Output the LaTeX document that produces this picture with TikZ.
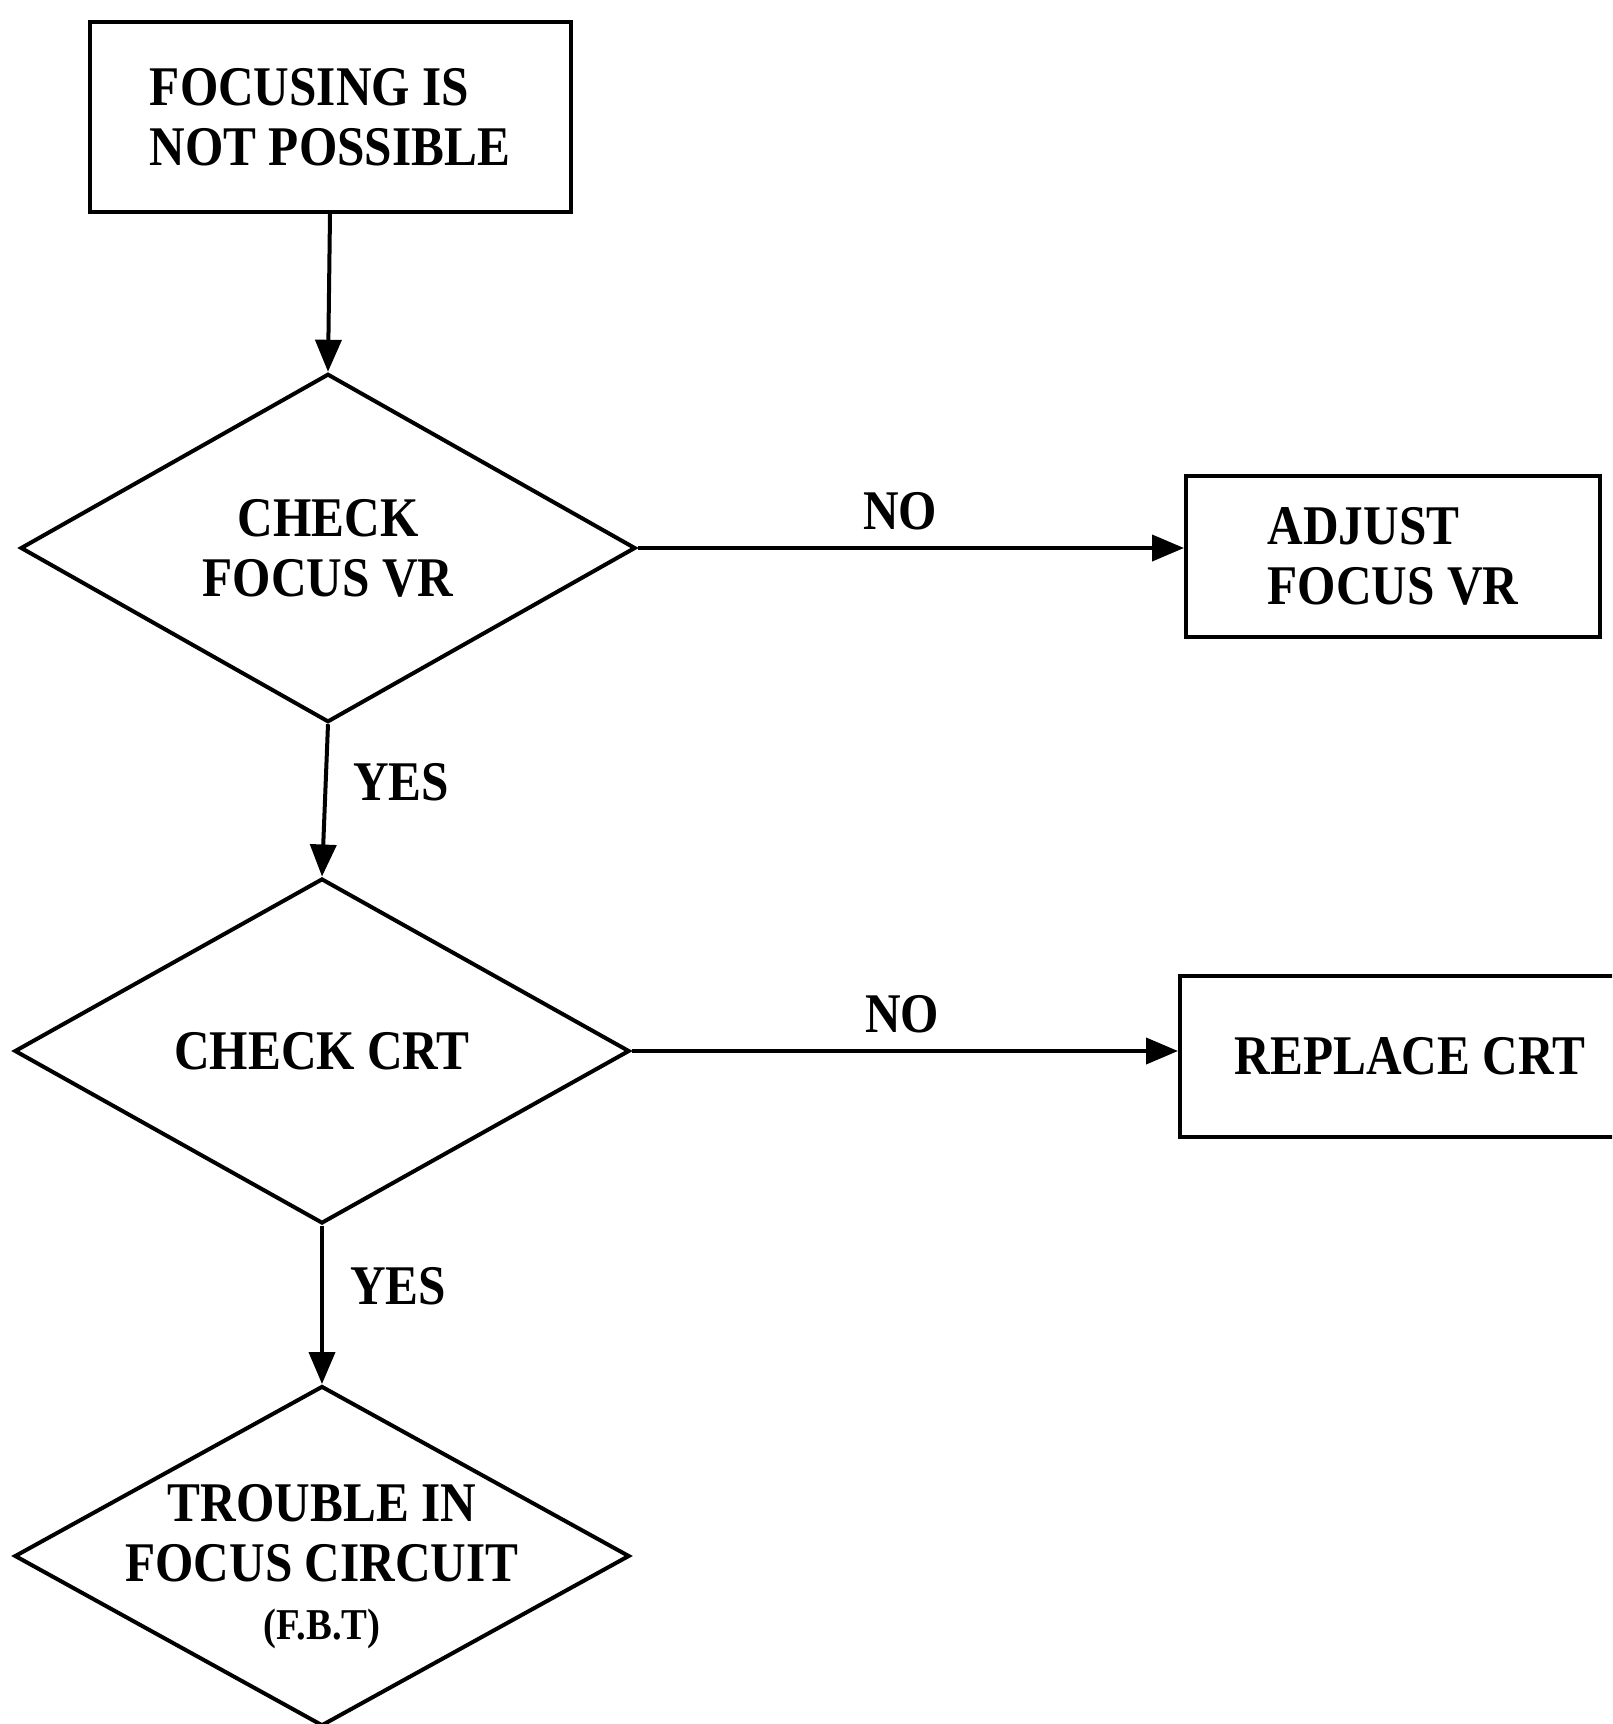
\documentclass[tikz,border=0pt]{standalone}
\usepackage{fontspec}
\setmainfont[FakeStretch=0.88]{Liberation Serif}
\usetikzlibrary{shapes.geometric,arrows.meta}
\begin{document}
\begin{tikzpicture}[x=1pt,y=-1pt,line width=4pt,
  every node/.style={font=\fontsize{56}{60}\selectfont\bfseries},
  box/.style={draw,rectangle,inner sep=0pt},
  dia/.style={draw,diamond,inner sep=0pt,minimum width=615pt,minimum height=345pt,align=center},
  arr/.style={-{Triangle[length=32pt,width=26pt]}}]
\useasboundingbox (0,0) rectangle (1612,1724);
\fill[white] (0,0) rectangle (1612,1724);
\clip (0,0) rectangle (1612,1724);

\node[box,minimum width=481pt,minimum height=190pt,align=left] (start) at (330,117) {FOCUSING IS\\NOT POSSIBLE};
\node[dia] (d1) at (328,548) {CHECK\\FOCUS VR};
\node[box,minimum width=414pt,minimum height=161pt,align=left] (adj) at (1393,556) {ADJUST\\FOCUS VR};
\node[dia] (d2) at (322,1051) {CHECK CRT};
\node[box,minimum width=480pt,minimum height=161pt] (rep) at (1420,1056) {\hspace*{-20pt}REPLACE CRT};
\node[dia,minimum height=340pt] (d3) at (322,1556) {};
\node[align=center] (t3) at (322,1567) {TROUBLE IN\\FOCUS CIRCUIT\\[-2pt]{\fontsize{44}{50}\selectfont (F.B.T)}};

\node (no1) at (900,511) {NO};
\node (yes1) at (401,782) {YES};
\node (no2) at (902,1014) {NO};
\node (yes2) at (398,1286) {YES};

\draw[arr] (start.south) -- (d1.north);
\draw[arr] (d1.east) -- (d1.east -| adj.west);
\draw[arr] (d1.south) -- (d2.north);
\draw[arr] (d2.east) -- (d2.east -| rep.west);
\draw[arr] (d2.south) -- (d3.north);
\end{tikzpicture}
\end{document}
